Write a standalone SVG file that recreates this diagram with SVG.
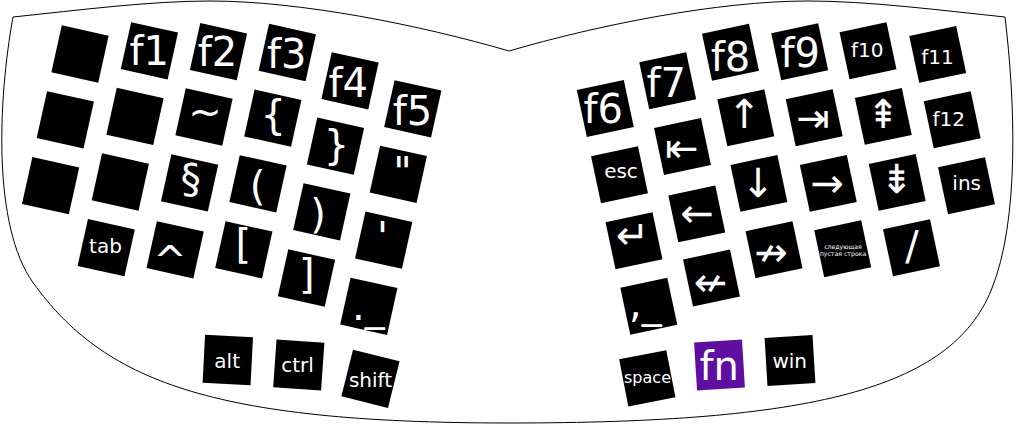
<svg xmlns="http://www.w3.org/2000/svg" width="1018" height="425" viewBox="0 0 1018 425">
<style>
.case{fill:#fff;stroke:#000;stroke-width:1}
.k{fill:#000}
.fnk{fill:#5f0fa0}
.t{fill:#fff;font-family:"DejaVu Sans","Noto Sans",sans-serif;text-anchor:middle}
.s{text-anchor:start}
.b{font-size:40px}
.m{font-size:20px}
.sp{font-size:16px}
.xs{font-size:6.2px}
</style>
<defs>
<rect id="sq" x="-24" y="-24" width="48" height="48"/>
</defs>
<rect width="1018" height="425" fill="#fff"/>
<g id="case">
<path class="case" d="M13,17 C80,10 150,1 210,1 C300,1 420,25 509,51 C598,25 718,1 808,1 C868,1 938,10 1005,17 C1015,100 1020,220 991.3,290 C950.3,390 809,423 509,423 C209,423 103.5,380 33.3,283 C-7.7,226 -2,100 13,17 Z"/>
</g>
<g id="left-half">
<g id="key-l1"><use href="#sq" class="k" transform="translate(80,54) rotate(12.5)"/></g>
<g id="key-f1"><use href="#sq" class="k" transform="translate(149.4,50.8) rotate(12.5)"/><text class="t b" x="149.2" y="65">f1</text></g>
<g id="key-f2"><use href="#sq" class="k" transform="translate(218.5,51.7) rotate(12.5)"/><text class="t b" x="217.5" y="66">f2</text></g>
<g id="key-f3"><use href="#sq" class="k" transform="translate(287.3,52.5) rotate(12.5)"/><text class="t b" x="286.8" y="67.5">f3</text></g>
<g id="key-f4"><use href="#sq" class="k" transform="translate(350,80.8) rotate(12.5)"/><text class="t b" x="348.3" y="97">f4</text></g>
<g id="key-f5"><use href="#sq" class="k" transform="translate(412.8,108.8) rotate(12.5)"/><text class="t b" x="412.5" y="124.5">f5</text></g>
<g id="key-l2"><use href="#sq" class="k" transform="translate(65.3,119.8) rotate(12.5)"/></g>
<g id="key-l3"><use href="#sq" class="k" transform="translate(135,116.4) rotate(12.5)"/></g>
<g id="key-tilde"><use href="#sq" class="k" transform="translate(204,117) rotate(12.5)"/><text class="t b" x="205" y="126">~</text></g>
<g id="key-lbrace"><use href="#sq" class="k" transform="translate(272.8,118.2) rotate(12.5)"/><text class="t b" x="273.3" y="129">{</text></g>
<g id="key-rbrace"><use href="#sq" class="k" transform="translate(335.5,146.2) rotate(12.5)"/><text class="t b" x="336.5" y="159">}</text></g>
<g id="key-dquote"><use href="#sq" class="k" transform="translate(398.3,174.3) rotate(12.5)"/><text class="t b" x="402.5" y="186">"</text></g>
<g id="key-l4"><use href="#sq" class="k" transform="translate(50.6,185.7) rotate(12.5)"/></g>
<g id="key-l5"><use href="#sq" class="k" transform="translate(120.3,182) rotate(12.5)"/></g>
<g id="key-section"><use href="#sq" class="k" transform="translate(189.6,182.9) rotate(12.5)"/><text class="t b" x="190.8" y="193.4">§</text></g>
<g id="key-lparen"><use href="#sq" class="k" transform="translate(258,183.8) rotate(12.5)"/><text class="t b" x="257.5" y="199.5">(</text></g>
<g id="key-rparen"><use href="#sq" class="k" transform="translate(321.8,211.8) rotate(12.5)"/><text class="t b" x="318" y="227.5">)</text></g>
<g id="key-squote"><use href="#sq" class="k" transform="translate(383.7,240.2) rotate(12.5)"/><text class="t b" x="382.5" y="251">'</text></g>
<g id="key-tab"><use href="#sq" class="k" transform="translate(106.2,247.7) rotate(12.5)"/><text class="t m" x="105.5" y="252.7">tab</text></g>
<g id="key-caret"><use href="#sq" class="k" transform="translate(175.1,249.8) rotate(12.5)"/><text class="t b" x="170" y="274.5">^</text></g>
<g id="key-lbracket"><use href="#sq" class="k" transform="translate(243.8,249.8) rotate(12.5)"/><text class="t b" x="243.3" y="258.4">[</text></g>
<g id="key-rbracket"><use href="#sq" class="k" transform="translate(306.5,278) rotate(12.5)"/><text class="t b" x="306.7" y="288">]</text></g>
<g id="key-dot"><use href="#sq" class="k" transform="translate(368.8,306.3) rotate(12.5)"/><text class="t b s" x="352" y="319.5">._</text></g>
<g id="key-alt"><use href="#sq" class="k" transform="translate(227.8,360) rotate(3)"/><text class="t m" x="227.2" y="368.3">alt</text></g>
<g id="key-ctrl"><use href="#sq" class="k" transform="translate(298.8,365) rotate(4)"/><text class="t m" x="297.5" y="371.7">ctrl</text></g>
<g id="key-shift"><use href="#sq" class="k" transform="translate(370.5,378.8) rotate(14)"/><text class="t m" x="370.5" y="386.7">shift</text></g>
</g>
<g id="right-half">
<g id="key-f6"><use href="#sq" class="k" transform="translate(605.3,108.5) rotate(-12)"/><text class="t b" x="603.3" y="123">f6</text></g>
<g id="key-f7"><use href="#sq" class="k" transform="translate(667.7,80.8) rotate(-12)"/><text class="t b" x="666.3" y="96.7">f7</text></g>
<g id="key-f8"><use href="#sq" class="k" transform="translate(730.5,52.3) rotate(-12)"/><text class="t b" x="730.5" y="71">f8</text></g>
<g id="key-f9"><use href="#sq" class="k" transform="translate(799.7,51.7) rotate(-12)"/><text class="t b" x="800.3" y="66.5">f9</text></g>
<g id="key-f10"><use href="#sq" class="k" transform="translate(868,50.8) rotate(-12)"/><text class="t m" x="867.2" y="56.5">f10</text></g>
<g id="key-f11"><use href="#sq" class="k" transform="translate(937.7,54.4) rotate(-12)"/><text class="t m" x="937.5" y="64">f11</text></g>
<g id="key-esc"><use href="#sq" class="k" transform="translate(619.5,174.8) rotate(-12)"/><text class="t m" x="621" y="178">esc</text></g>
<g id="key-home"><use href="#sq" class="k" transform="translate(682.5,146.5) rotate(-12)"/><text class="t b" x="681.8" y="161.8">⇤</text></g>
<g id="key-up"><use href="#sq" class="k" transform="translate(745.8,117.8) rotate(-12)"/><text class="t b" x="744.2" y="128.2">↑</text></g>
<g id="key-end"><use href="#sq" class="k" transform="translate(814.2,117.7) rotate(-12)"/><text class="t b" x="813" y="132.3">⇥</text></g>
<g id="key-pgup"><use href="#sq" class="k" transform="translate(883.3,116.4) rotate(-12)"/><text class="t b" x="883.3" y="128.2">⇞</text></g>
<g id="key-f12"><use href="#sq" class="k" transform="translate(952.2,119.8) rotate(-12)"/><text class="t m" x="948.7" y="126">f12</text></g>
<g id="key-enter"><use href="#sq" class="k" transform="translate(634,240.7) rotate(-12)"/><text class="t b" x="632.5" y="249">↵</text></g>
<g id="key-left"><use href="#sq" class="k" transform="translate(696.8,213.9) rotate(-12)"/><text class="t b" x="697" y="227.3">←</text></g>
<g id="key-down"><use href="#sq" class="k" transform="translate(758.9,183.4) rotate(-12)"/><text class="t b" x="758" y="197.3">↓</text></g>
<g id="key-right"><use href="#sq" class="k" transform="translate(828.3,183.4) rotate(-12)"/><text class="t b" x="827.2" y="196.5">→</text></g>
<g id="key-pgdn"><use href="#sq" class="k" transform="translate(897.2,182.4) rotate(-12)"/><text class="t b" x="896.7" y="193.2">⇟</text></g>
<g id="key-ins"><use href="#sq" class="k" transform="translate(966.5,185.7) rotate(-12)"/><text class="t m" x="966.7" y="190">ins</text></g>
<g id="key-comma"><use href="#sq" class="k" transform="translate(648.8,306.2) rotate(-12)"/><text class="t b s" x="629" y="316.5">,_</text></g>
<g id="key-nleft"><use href="#sq" class="k" transform="translate(711.5,278) rotate(-12)"/><text class="t b" x="710.5" y="295.7">↚</text></g>
<g id="key-nright"><use href="#sq" class="k" transform="translate(774,249.7) rotate(-12)"/><text class="t b" x="771.3" y="265.7">↛</text></g>
<g id="key-nextline"><use href="#sq" class="k" transform="translate(842.7,248.7) rotate(-12)"/><text class="t xs" x="843" y="249">следующая</text><text class="t xs" x="843" y="255.5">пустая строка</text></g>
<g id="key-slash"><use href="#sq" class="k" transform="translate(911.5,247.7) rotate(-12)"/><text class="t b" x="912" y="260">/</text></g>
<g id="key-space"><use href="#sq" class="k" transform="translate(647.3,378.3) rotate(-11)"/><text class="t sp" x="647.5" y="382.5">space</text></g>
<g id="key-fn"><use href="#sq" class="fnk" transform="translate(719.5,365) rotate(-3.5)"/><text class="t b" x="719.2" y="380">fn</text></g>
<g id="key-win"><use href="#sq" class="k" transform="translate(790,360.5) rotate(-3.5)"/><text class="t m" x="789.7" y="368.3">win</text></g>
</g>
</svg>
